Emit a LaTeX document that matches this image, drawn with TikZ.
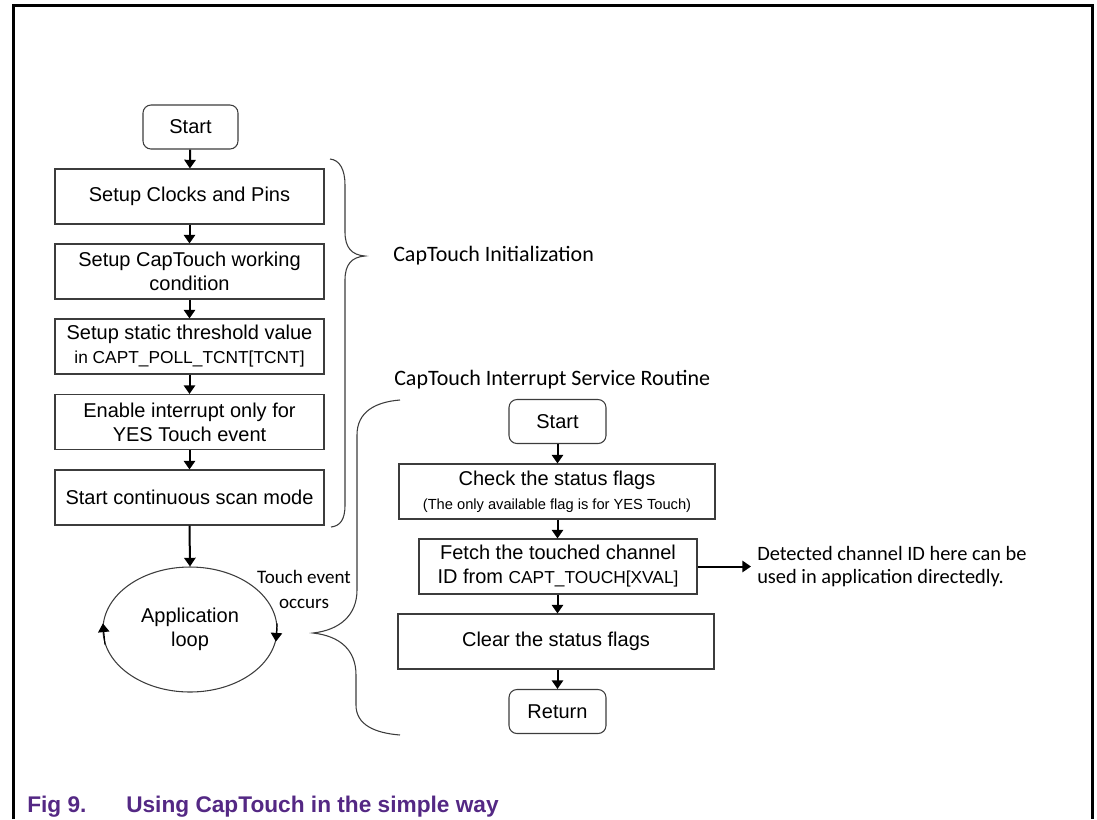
\documentclass[tikz,border=0pt]{standalone}
\usepackage{fontspec}
\setmainfont{Liberation Sans}
\newfontfamily\calfont{Carlito}
\usetikzlibrary{arrows.meta,shapes.geometric}
\definecolor{captionpurple}{RGB}{84,40,132}
\definecolor{boxline}{RGB}{60,60,60}
\tikzset{
  flowbox/.style={draw=boxline, line width=0.8pt, rectangle, inner sep=0pt, minimum height=41.25pt,
    align=center, font=\fontsize{15}{18}\selectfont},
  termbox/.style={flowbox, rounded corners=6pt, minimum width=71.25pt, minimum height=33pt},
  flowarrow/.style={line width=1.5pt, -{Triangle[width=8.5pt,length=6.5pt]}},
  looparrow/.style={line width=0.9pt, -{Triangle[width=8.5pt,length=6.5pt]}},
  bracepath/.style={draw=boxline, line width=0.8pt},
  callabel/.style={font=\calfont\fontsize{16.5}{20}\selectfont, inner sep=0pt}
}
\newcommand{\smalla}[1]{{\fontsize{13}{18}\selectfont #1}}
\newcommand{\smallb}[1]{{\fontsize{11}{18}\selectfont #1}}
\begin{document}
\begin{tikzpicture}[x=0.75pt,y=-0.75pt]
\useasboundingbox (0,0) rectangle (1097,819);
% frame
\draw[line width=2.25pt] (13,819) -- (13,5.5) -- (1092,5.5) -- (1092,819);

% left column
\node[termbox] (s1) at (190.5,127) {Start};
\node[flowbox, minimum width=201.75pt] (b1) at (189.5,196.5) {Setup Clocks and Pins};
\node[flowbox, minimum width=201.75pt] (b2) at (189.5,271.5) {Setup CapTouch working\\condition};
\node[flowbox, minimum width=201.75pt] (b3) at (189.5,346.5) {Setup static threshold value\\\smalla{in CAPT\_POLL\_TCNT[TCNT]}};
\node[flowbox, minimum width=201.75pt] (b4) at (189.5,422) {Enable interrupt only for\\YES Touch event};
\node[flowbox, minimum width=201.75pt] (b5) at (189.5,497.5) {Start continuous scan mode};
\node[draw=boxline, line width=0.8pt, ellipse, minimum width=130.5pt, minimum height=93.75pt, inner sep=0pt,
  align=center, font=\fontsize{15}{18}\selectfont] (ell) at (190,629.5) {Application\\loop};

\draw[flowarrow] (s1) -- (b1);
\draw[flowarrow] (b1) -- (b2);
\draw[flowarrow] (b2) -- (b3);
\draw[flowarrow] (b3) -- (b4);
\draw[flowarrow] (b4) -- (b5);
\draw[flowarrow] (b5.south) -- (ell.north);
\draw[looparrow] (ell.190) -- (ell.176);
\draw[looparrow] (ell.4) -- (ell.-8);

\node[font=\calfont\fontsize{14.3}{18.75}\selectfont, align=center, inner sep=0pt] (touch) at (304,589.5) {Touch event\\occurs};

% braces
\draw[bracepath] (330,159) .. controls (340,160) and (345,170) .. (345,185) -- (345,232)
  .. controls (345,248) and (352,255) .. (365,256) .. controls (352,257) and (345,264) .. (345,280)
  -- (345,505) .. controls (345,520) and (340,526) .. (331,527);
\draw[bracepath] (400,400) .. controls (375,402) and (357,412) .. (357,435) -- (357,590)
  .. controls (357,615) and (340,630) .. (313,633) .. controls (340,636) and (356,650) .. (356,675)
  -- (356,705) .. controls (356,725) and (375,733) .. (400,735);

\node[callabel, anchor=west] (initlbl) at (393,256) {CapTouch Initialization};
\node[callabel, anchor=west] (isrlbl) at (394,380) {CapTouch Interrupt Service Routine};

% right column
\node[termbox, minimum width=72.75pt] (s2) at (557.5,421.5) {Start};
\node[flowbox, minimum width=237pt] (chk) at (557,491.5) {Check the status flags\\\smallb{(The only available flag is for YES Touch)}};
\node[flowbox, minimum width=208.5pt] (fetch) at (558,566.5) {Fetch the touched channel\\ID from \smalla{CAPT\_TOUCH[XVAL]}};
\node[flowbox, minimum width=237pt] (clr) at (556,641.5) {Clear the status flags};
\node[termbox, minimum width=72.75pt] (ret) at (557.5,711.5) {Return};

\draw[flowarrow] (s2.south) -- (s2.south |- chk.north);
\draw[flowarrow] (s2.south |- chk.south) -- (s2.south |- fetch.north);
\draw[flowarrow] (s2.south |- fetch.south) -- (s2.south |- clr.north);
\draw[flowarrow] (s2.south |- clr.south) -- (ret.north);

\node[font=\calfont\fontsize{15.3}{17.25}\selectfont, align=left, anchor=west, inner sep=0pt] (det) at (757,566.5)
  {Detected channel ID here can be\\used in application directedly.};
\draw[flowarrow] (fetch.east) -- ([xshift=-4.5pt]det.west);

% caption
\node[anchor=base west, inner sep=0pt, text=captionpurple, font=\bfseries\fontsize{17}{20}\selectfont] (fig) at (27,812) {Fig 9.};
\node[anchor=base west, inner sep=0pt, text=captionpurple, font=\bfseries\fontsize{17}{20}\selectfont] (cap) at (126,812) {Using CapTouch in the simple way};
\end{tikzpicture}
\end{document}
